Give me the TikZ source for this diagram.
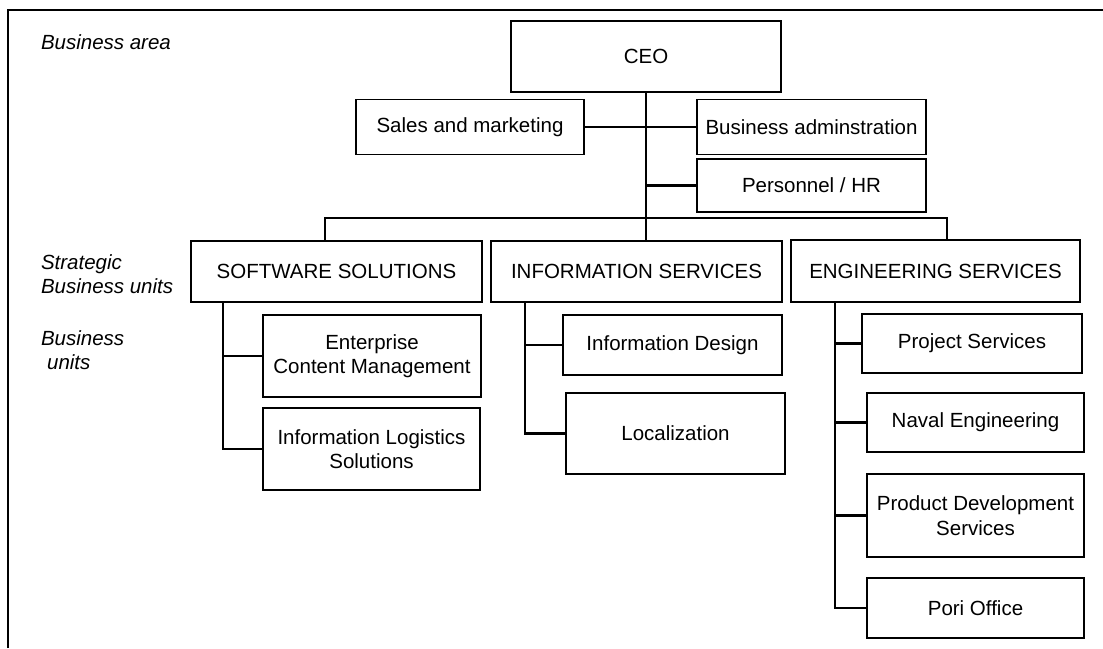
\documentclass[tikz,border=0pt]{standalone}
\usepackage{fontspec}
\setmainfont{Liberation Sans}
\begin{document}
\begin{tikzpicture}[x=1pt,y=-1pt,
  every node/.style={font=\fontsize{20.5}{24.5}\selectfont, inner sep=0pt, outer sep=0pt, align=center},
  topbox/.style={draw, line width=2.4pt},
  sbubox/.style={draw, line width=2.4pt},
  staffbox/.style={draw, line width=1.3pt},
  unitbox/.style={draw, line width=2.1pt},
  link/.style={line width=2.1pt},
  lbl/.style={anchor=west, align=left, font=\fontsize{20.5}{24}\selectfont\itshape}
]
\useasboundingbox (0,0) rectangle (1103,648);
% frame
\draw[line width=2pt] (8,648) -- (8,9.5) -- (1103,9.5);

% labels
\node[lbl] (lArea) at (41,42) {Business area};
\node[lbl] (lSBU) at (41,274) {Strategic\\Business units};
\node[lbl] (lBU) at (41,350) {Business\\\hspace*{0.3em}units};

% top
\node[topbox, minimum width=270, minimum height=71] (ceo) at (646,56.5) {CEO};
\node[staffbox, minimum width=228, minimum height=55] (sales) at (470,127) {Sales and marketing};
\node[staffbox, minimum width=229, minimum height=55] (admin) at (811.5,127) {Business adminstration};
\node[staffbox, minimum width=229, minimum height=53] (hr) at (811.5,185.5) {Personnel / HR};

% SBUs
\node[sbubox, minimum width=291, minimum height=61] (sw) at (336.5,271.5) {SOFTWARE SOLUTIONS};
\node[sbubox, minimum width=291, minimum height=61] (info) at (636.5,271.5) {INFORMATION SERVICES};
\node[sbubox, minimum width=289, minimum height=62] (eng) at (935.5,271) {ENGINEERING SERVICES};

% units
\node[unitbox, minimum width=218, minimum height=82] (ecm) at (372,356) {Enterprise\\Content Management};
\node[unitbox, minimum width=217, minimum height=82] (ils) at (371.5,449) {Information Logistics\\Solutions};
\node[unitbox, minimum width=219, minimum height=60] (ides) at (672.5,345) {Information Design};
\node[unitbox, minimum width=219, minimum height=81] (loc) at (675.5,433.5) {Localization};
\node[unitbox, minimum width=220, minimum height=59] (proj) at (972,343.5) {Project Services};
\node[unitbox, minimum width=217, minimum height=59] (naval) at (975.5,422.5) {Naval Engineering};
\node[unitbox, minimum width=217, minimum height=83] (pds) at (975.5,515.5) {Product Development\\Services};
\node[unitbox, minimum width=217, minimum height=60] (pori) at (975.5,608) {Pori Office};

% helper coordinates
\coordinate (busL) at (325,218);
\coordinate (busR) at (947,218);
\coordinate (swx) at (223,0);
\coordinate (infx) at (525,0);
\coordinate (engx) at (835,0);

% connectors
\draw[link] (ceo.south) -- (ceo.south |- info.north);
\draw[link] (sales.east) -- (admin.west);
\draw[link] (ceo.south |- hr.west) -- (hr.west);
\draw[link] (busL |- sw.north) -- (busL) -- (busR) -- (busR |- eng.north);

\draw[link] (sw.south -| swx) |- (ils.west);
\draw[link] (swx |- ecm.west) -- (ecm.west);

\draw[link] (info.south -| infx) |- (loc.west);
\draw[link] (infx |- ides.west) -- (ides.west);

\draw[link] (eng.south -| engx) |- (pori.west);
\draw[link] (engx |- proj.west) -- (proj.west);
\draw[link] (engx |- naval.west) -- (naval.west);
\draw[link] (engx |- pds.west) -- (pds.west);
\end{tikzpicture}
\end{document}
